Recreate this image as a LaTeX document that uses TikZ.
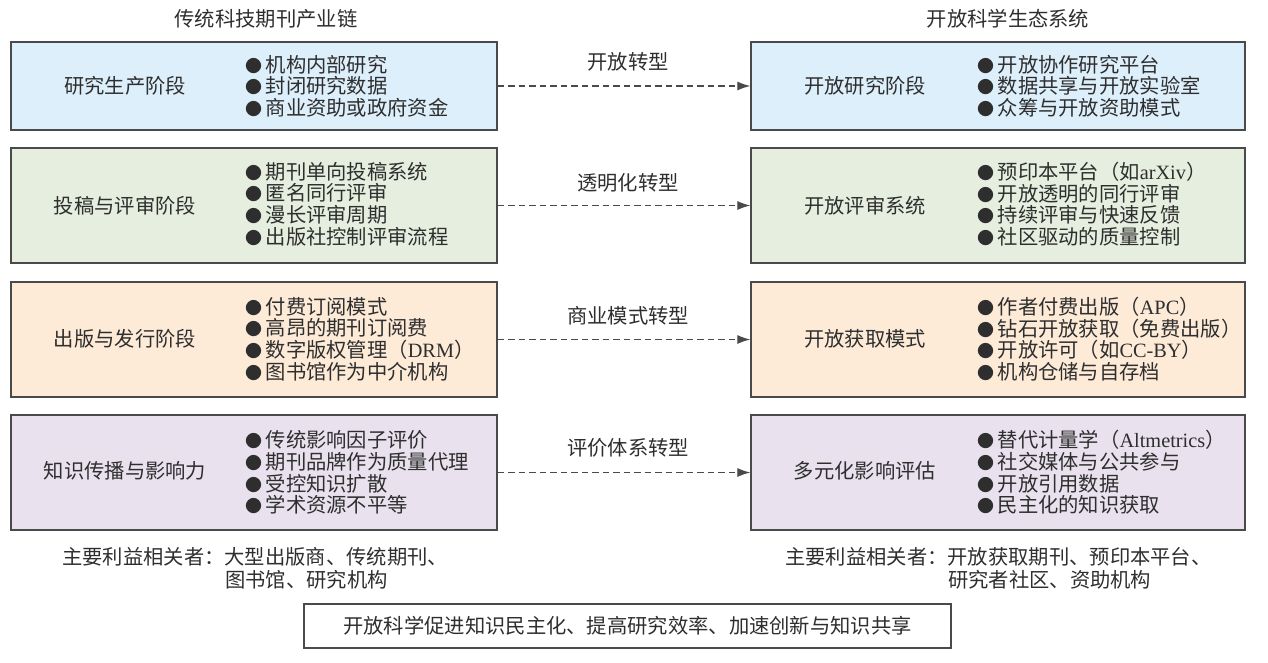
\documentclass[tikz,border=0pt]{standalone}
\usepackage{fontspec}
\setmainfont{Noto Sans CJK SC}
\newfontfamily\latinf{Liberation Serif}
\usetikzlibrary{arrows.meta}
\definecolor{bluef}{HTML}{DDEFFB}
\definecolor{greenf}{HTML}{E6EFDF}
\definecolor{peachf}{HTML}{FDEBD8}
\definecolor{lavf}{HTML}{E9E2EE}
\definecolor{bordc}{HTML}{4A4A4A}
\definecolor{txtc}{HTML}{2E2E2E}
\newcommand{\lt}[1]{{\latinf #1}}
\newcommand{\bul}{\makebox[20.5pt][l]{\fontsize{17}{17}\selectfont ●}}
\begin{document}
\begin{tikzpicture}[x=1pt,y=-1pt,
  every node/.style={text=txtc, inner sep=0pt},
  stagebox/.style={draw=bordc, line width=1.3pt, minimum width=486pt, minimum height=115pt},
  rstagebox/.style={stagebox, minimum width=494pt},
  lbl/.style={font=\fontsize{20.3}{24}\selectfont},
  blist/.style={font=\fontsize{20.3}{21.6}\selectfont, align=left, anchor=west},
  trans/.style={draw=bordc, line width=1.2pt, dash pattern=on 6.5pt off 4pt, -{Latex[length=13pt,width=9pt]}},
  stake/.style={font=\fontsize{20.3}{24}\selectfont, anchor=west}
]
\useasboundingbox (0,0) rectangle (1268,662);

% titles
\node[lbl] (tl) at (266,19) {传统科技期刊产业链};
\node[lbl] (tr) at (1008,19) {开放科学生态系统};

% left boxes
\node[stagebox, fill=bluef, minimum height=88pt] (L1) at (254,86) {};
\node[stagebox, fill=greenf] (L2) at (254,205.5) {};
\node[stagebox, fill=peachf] (L3) at (254,339.5) {};
\node[stagebox, fill=lavf] (L4) at (254,472.5) {};

% right boxes
\node[rstagebox, fill=bluef, minimum height=88pt] (R1) at (998,86) {};
\node[rstagebox, fill=greenf] (R2) at (998,205.5) {};
\node[rstagebox, fill=peachf] (R3) at (998,339.5) {};
\node[rstagebox, fill=lavf] (R4) at (998,472.5) {};

% left stage labels
\node[lbl] (l1t) at (125,86) {研究生产阶段};
\node[lbl] (l2t) at (125,206) {投稿与评审阶段};
\node[lbl] (l3t) at (125,339) {出版与发行阶段};
\node[lbl] (l4t) at (125,471) {知识传播与影响力};

% right stage labels
\node[lbl] (r1t) at (865,86) {开放研究阶段};
\node[lbl] (r2t) at (865,206) {开放评审系统};
\node[lbl] (r3t) at (865,339) {开放获取模式};
\node[lbl] (r4t) at (865,471) {多元化影响评估};

% left lists
\node[blist] (l1b) at (245,86) {\bul 机构内部研究\\\bul 封闭研究数据\\\bul 商业资助或政府资金};
\node[blist] (l2b) at (245,204) {\bul 期刊单向投稿系统\\\bul 匿名同行评审\\\bul 漫长评审周期\\\bul 出版社控制评审流程};
\node[blist] (l3b) at (245,339) {\bul 付费订阅模式\\\bul 高昂的期刊订阅费\\\bul 数字版权管理（\lt{DRM}）\\\bul 图书馆作为中介机构};
\node[blist] (l4b) at (245,472.5) {\bul 传统影响因子评价\\\bul 期刊品牌作为质量代理\\\bul 受控知识扩散\\\bul 学术资源不平等};

% right lists
\node[blist] (r1b) at (977,86) {\bul 开放协作研究平台\\\bul 数据共享与开放实验室\\\bul 众筹与开放资助模式};
\node[blist] (r2b) at (977,204) {\bul 预印本平台（如\lt{arXiv}）\\\bul 开放透明的同行评审\\\bul 持续评审与快速反馈\\\bul 社区驱动的质量控制};
\node[blist] (r3b) at (977,339) {\bul 作者付费出版（\lt{APC}）\\\bul 钻石开放获取（免费出版）\\\bul 开放许可（如\lt{CC-BY}）\\\bul 机构仓储与自存档};
\node[blist] (r4b) at (977,472.5) {\bul 替代计量学（\lt{Altmetrics}）\\\bul 社交媒体与公共参与\\\bul 开放引用数据\\\bul 民主化的知识获取};

% transitions
\draw[trans] (L1.east) -- (R1.west);
\draw[trans] (L2.east) -- (R2.west);
\draw[trans] (L3.east) -- (R3.west);
\draw[trans] (L4.east) -- (R4.west);
\node[lbl] (a1) at (628,62) {开放转型};
\node[lbl] (a2) at (628,183) {透明化转型};
\node[lbl] (a3) at (628,316) {商业模式转型};
\node[lbl] (a4) at (628,448) {评价体系转型};

% stakeholders
\node[stake] (sl1) at (62,557) {主要利益相关者：大型出版商、传统期刊、};
\node[stake] (sl2) at (225,580) {图书馆、研究机构};
\node[stake] (sr1) at (785,557) {主要利益相关者：开放获取期刊、预印本平台、};
\node[stake] (sr2) at (948,580) {研究者社区、资助机构};

% bottom summary
\node[draw=bordc, line width=1.3pt, fill=white, minimum width=647pt, minimum height=44pt, lbl] (sum) at (627.5,626) {开放科学促进知识民主化、提高研究效率、加速创新与知识共享};
\end{tikzpicture}
\end{document}
